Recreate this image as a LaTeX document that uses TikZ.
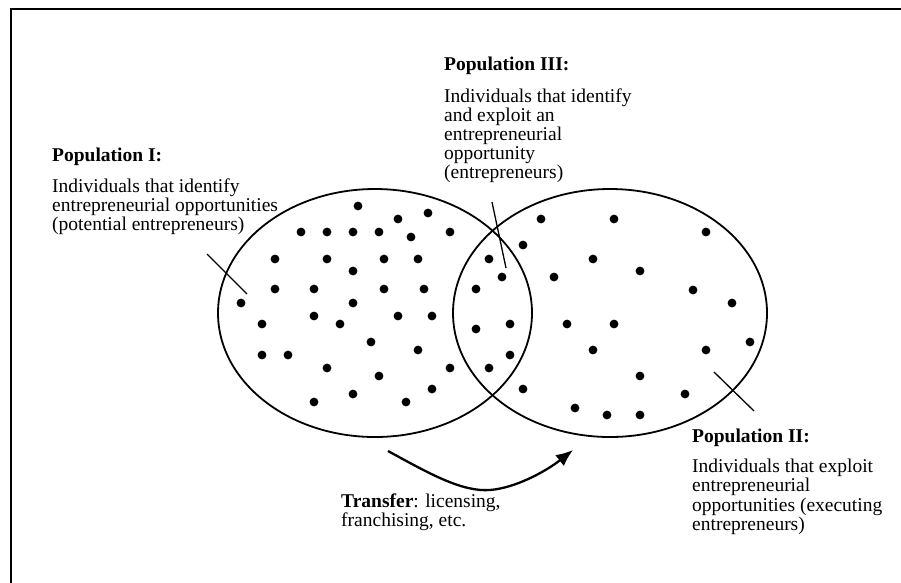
\documentclass[tikz,border=0pt]{standalone}
\usepackage{fontspec}
\setmainfont{Liberation Serif}
\usetikzlibrary{arrows.meta}

\tikzset{
  frame/.style={line width=2pt, line cap=rect},
  popset/.style={draw, line width=1.8pt},
  member/.style={fill=black},
  leader/.style={line width=1.3pt},
  transfer/.style={line width=2.3pt, -{Latex[length=17pt,width=14pt]}},
  label/.style={inner sep=0pt, anchor=base west, font=\fontsize{19.5}{18.8}\selectfont},
}

\newcommand{\poptext}[1]{\begin{tabular}[t]{@{}l@{}}#1\end{tabular}}

\begin{document}
\begin{tikzpicture}[x=1pt, y=-1pt]
  \useasboundingbox (0,0) rectangle (901,582);

  % open frame: only the left and top edges fall inside the page
  \coordinate (frameBL) at (11,582);
  \coordinate (frameTL) at (11,9);
  \coordinate (frameTR) at (901,9);
  \draw[frame] (frameBL) -- (frameTL) -- (frameTR);

  % the two populations
  \draw[popset] (375,313) ellipse [x radius=157, y radius=124];
  \draw[popset] (610,313) ellipse [x radius=157, y radius=124];

  % individuals
  \foreach \px/\py in {
    358/206, 398/219, 428/213, 301/232, 327/232, 353/232, 379/232, 411/237,
    450/232, 275/259, 327/259, 384/259, 418/259, 353/271, 275/289, 314/289,
    384/289, 424/289, 241/303, 353/303, 314/316, 340/324, 398/316, 432/316,
    262/324, 371/342, 262/355, 288/355, 418/350, 327/368, 379/376, 450/368,
    432/389, 353/394, 314/402, 406/402,
    489/259, 502/277, 476/289, 476/329, 510/324, 510/355, 489/368,
    523/245, 541/219, 523/389, 614/219, 706/232, 593/259, 554/277, 640/271,
    693/290, 732/303, 567/324, 614/324, 593/350, 706/350, 750/342, 640/376,
    685/394, 575/408, 607/415, 640/415}
    \fill[member] (\px,\py) circle [radius=4.4];

  % labels
  \node[label] (popI) at (52,161) {\poptext{\textbf{Population I:}\\[12pt]
    Individuals that identify\\
    entrepreneurial opportunities\\
    (potential entrepreneurs)}};

  \node[label] (popIII) at (444,70) {\poptext{\textbf{Population III:}\\[13pt]
    Individuals that identify\\
    and exploit an\\
    entrepreneurial\\
    opportunity\\
    (entrepreneurs)}};

  \node[label] (popII) at (692,442) {\poptext{\textbf{Population II:}\\[11.5pt]
    Individuals that exploit\\
    entrepreneurial\\
    opportunities (executing\\
    entrepreneurs)}};

  \node[label] (transferText) at (341,507) {\poptext{\textbf{Transfer}: licensing,\\
    franchising, etc.}};

  % leader lines from the labels into the sets
  \coordinate (leadIa) at (207,254);
  \coordinate (leadIb) at (247,294);
  \coordinate (leadIIIa) at (492,202);
  \coordinate (leadIIIb) at (506,268);
  \coordinate (leadIIa) at (714,372);
  \coordinate (leadIIb) at (754,411);
  \draw[leader] (leadIa) -- (leadIb);
  \draw[leader] (leadIIIa) -- (leadIIIb);
  \draw[leader] (leadIIa) -- (leadIIb);

  % transfer arrow from population I to population II
  \coordinate (transferFrom) at (388,451);
  \coordinate (transferLow) at (490,490);
  \coordinate (transferTo) at (573,450);
  \draw[transfer] (transferFrom) .. controls (430,474) and (462,492) .. (transferLow)
                  .. controls (515,488) and (545,472) .. (transferTo);
\end{tikzpicture}
\end{document}
